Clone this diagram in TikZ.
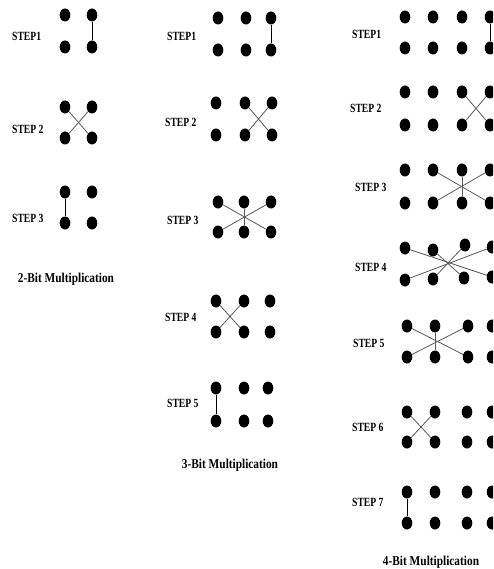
\documentclass[tikz,border=0pt]{standalone}
\usepackage{fontspec}
\usetikzlibrary{shapes.geometric}
\newfontfamily\steplabelfont{Liberation Serif}[FakeStretch=0.77]
\newfontfamily\titlefont{Liberation Serif}[FakeStretch=0.84]

% two rows of dots: #1 name prefix, #2 top y, #3 bottom y, #4 list of x
\newcommand\dotpairs[4]{%
  \foreach \xx [count=\i] in {#4} {
    \node[bit] (#1t\i) at (\xx,#2) {};
    \node[bit] (#1b\i) at (\xx,#3) {};
  }%
}

\begin{document}
\begin{tikzpicture}[x=1pt,y=-1pt,
  bit/.style={ellipse,fill=black,draw=none,inner sep=0pt,
              minimum width=10.6pt,minimum height=13pt},
  wire/.style={draw=black!65,line width=0.8pt},
  rung/.style={draw=black,line width=0.9pt},
  steptext/.style={anchor=west,inner sep=0pt,font=\steplabelfont\bfseries\fontsize{12.5}{12.5}\selectfont},
  caption/.style={inner sep=0pt,font=\titlefont\bfseries\fontsize{13.5}{13.5}\selectfont}]
\useasboundingbox (0,0) rectangle (493,569);
\clip (0,0) rectangle (493,569);

% ---------------- 2-bit multiplication ----------------
\node[steptext] (lA1) at (12,36) {STEP1};
\node[steptext] (lA2) at (12,129) {STEP 2};
\node[steptext] (lA3) at (12,218) {STEP 3};
\dotpairs{A1}{15}{47}{65,92}
\dotpairs{A2}{107}{138}{65,92}
\dotpairs{A3}{192}{223}{65,92}
\draw[rung] (A1t2) -- (A1b2);
\draw[wire] (A2t1) -- (A2b2);
\draw[wire] (A2t2) -- (A2b1);
\draw[rung] (A3t1) -- (A3b1);
\node[caption] (capA) at (66,279) {2-Bit Multiplication};

% ---------------- 3-bit multiplication ----------------
\node[steptext] (lB1) at (167,36) {STEP1};
\node[steptext] (lB2) at (165,122) {STEP 2};
\node[steptext] (lB3) at (167,220) {STEP 3};
\node[steptext] (lB4) at (165,317) {STEP 4};
\node[steptext] (lB5) at (167,403) {STEP 5};
\dotpairs{B1}{18}{50}{218,246,271}
\dotpairs{B2}{103}{135}{216,245,272}
\dotpairs{B3}{202}{232}{218,244,271}
\dotpairs{B4}{301}{332}{216,244,270}
\dotpairs{B5}{388}{421}{216,244,268}
\draw[rung] (B1t3) -- (B1b3);
\draw[wire] (B2t2) -- (B2b3);
\draw[wire] (B2t3) -- (B2b2);
\draw[wire] (B3t1) -- (B3b3);
\draw[wire] (B3t3) -- (B3b1);
\draw[wire] (B3t2) -- (B3b2);
\draw[wire] (B4t1) -- (B4b2);
\draw[wire] (B4t2) -- (B4b1);
\draw[rung] (B5t1) -- (B5b1);
\node[caption] (capB) at (230,465) {3-Bit Multiplication};

% ---------------- 4-bit multiplication ----------------
\node[steptext] (lC1) at (352,34) {STEP1};
\node[steptext] (lC2) at (350,108) {STEP 2};
\node[steptext] (lC3) at (355,187) {STEP 3};
\node[steptext] (lC4) at (355,267) {STEP 4};
\node[steptext] (lC5) at (353,343) {STEP 5};
\node[steptext] (lC6) at (352,427) {STEP 6};
\node[steptext] (lC7) at (352,502) {STEP 7};
\dotpairs{C1}{17}{48}{405,433,462,490}
\dotpairs{C2}{92}{125}{405,433,462,490}
\dotpairs{C3}{170}{203}{405,433,462,490}
% step 4 rows sit slightly askew
\node[bit] (C4t1) at (405,248) {};
\node[bit] (C4t2) at (433,250) {};
\node[bit] (C4t3) at (465,245) {};
\node[bit] (C4t4) at (492,247) {};
\node[bit] (C4b1) at (405,280) {};
\node[bit] (C4b2) at (433,279) {};
\node[bit] (C4b3) at (464,278) {};
\node[bit] (C4b4) at (492,277) {};
\dotpairs{C5}{326}{357}{407,435,468,492}
\dotpairs{C6}{412}{442}{407,435,467,492}
\dotpairs{C7}{492}{523}{407,435,467,492}
\draw[rung] (C1t4) -- (C1b4);
\draw[wire] (C2t3) -- (C2b4);
\draw[wire] (C2t4) -- (C2b3);
\draw[wire] (C3t2) -- (C3b4);
\draw[wire] (C3t4) -- (C3b2);
\draw[wire] (C3t3) -- (C3b3);
\draw[wire] (C4t1) -- (C4b4);
\draw[wire] (C4t4) -- (C4b1);
\draw[wire] (C4t2) -- (C4b3);
\draw[wire] (C4t3) -- (C4b2);
\draw[wire] (C5t1) -- (C5b3);
\draw[wire] (C5t3) -- (C5b1);
\draw[wire] (C5t2) -- (C5b2);
\draw[wire] (C6t1) -- (C6b2);
\draw[wire] (C6t2) -- (C6b1);
\draw[rung] (C7t1) -- (C7b1);
\node[caption] (capC) at (431,562) {4-Bit Multiplication};
\end{tikzpicture}
\end{document}
